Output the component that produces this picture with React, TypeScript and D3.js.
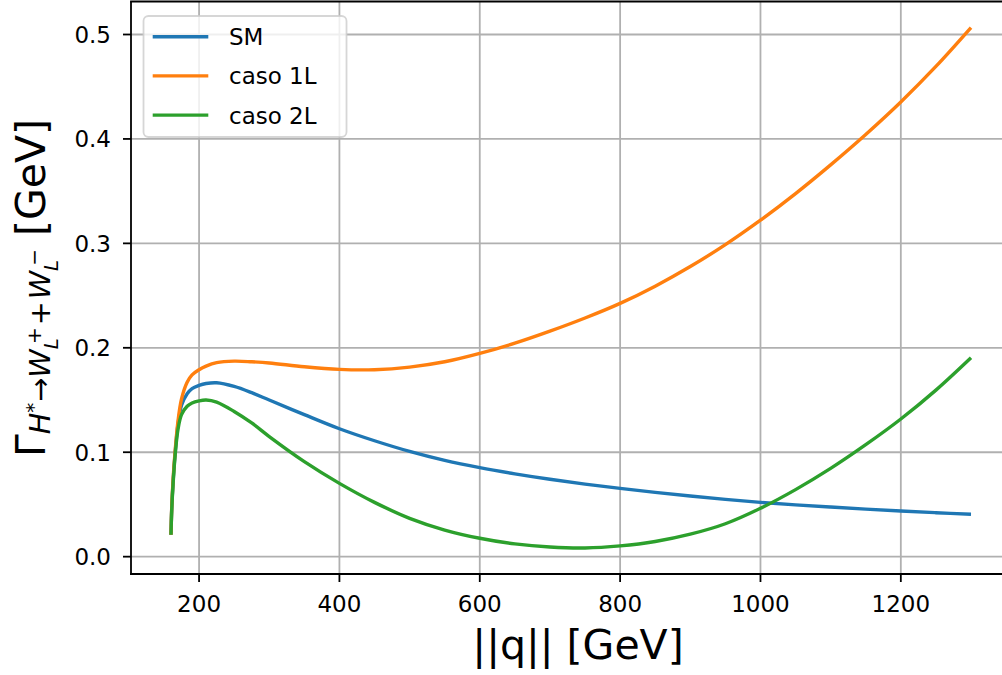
import React from 'react';
import * as d3 from 'd3';

// ||q|| in GeV
const qValues = [160, 161, 163, 166, 170, 175, 183, 190, 200, 210, 225, 250, 275, 300, 350, 400, 450, 500, 550, 600, 650, 700, 750, 800, 850, 900, 950, 1000, 1050, 1100, 1150, 1200, 1250, 1300];
const smValues = [0.021, 0.045, 0.072, 0.100, 0.127, 0.145, 0.156, 0.161, 0.164, 0.1658, 0.1665, 0.163, 0.157, 0.150, 0.136, 0.1225, 0.111, 0.1008, 0.0922, 0.0852, 0.0793, 0.0741, 0.0695, 0.0654, 0.0616, 0.0581, 0.0549, 0.052, 0.0496, 0.0475, 0.0455, 0.0437, 0.0421, 0.0406];
const caso1Values = [0.021, 0.046, 0.074, 0.102, 0.130, 0.151, 0.167, 0.174, 0.179, 0.1825, 0.1858, 0.1872, 0.1866, 0.1855, 0.1818, 0.1793, 0.179, 0.1815, 0.1866, 0.1946, 0.2044, 0.2159, 0.2285, 0.2425, 0.259, 0.2778, 0.2988, 0.3222, 0.3477, 0.3752, 0.4043, 0.4354, 0.4694, 0.5066];
const caso2Values = [0.021, 0.044, 0.070, 0.098, 0.122, 0.136, 0.144, 0.1472, 0.1492, 0.150, 0.148, 0.139, 0.128, 0.115, 0.091, 0.0702, 0.052, 0.0367, 0.0255, 0.0176, 0.0122, 0.0092, 0.0083, 0.0103, 0.0145, 0.0215, 0.0315, 0.0463, 0.0642, 0.0845, 0.1072, 0.1318, 0.1595, 0.1905];

const seriesNames = ['SM', 'caso 1L', 'caso 2L'];
const seriesColors = ['#1f77b4', '#ff7f0e', '#2ca02c'];
const xTicks = [200, 400, 600, 800, 1000, 1200];
const yTicks = [0.0, 0.1, 0.2, 0.3, 0.4, 0.5];

const W = 1002;
const H = 675;
const left = 131;
const right = 1011;
const top = 1.5;
const bottom = 574;
const font = 'DejaVu Sans';

export default function App() {
  const x = d3.scaleLinear().domain([103, 1357]).range([left, right]);
  const y = d3.scaleLinear().domain([-0.0166, 0.5316]).range([bottom, top]);

  const allSeries = [smValues, caso1Values, caso2Values];
  const line = d3
    .line<number>()
    .x((_, i) => x(qValues[i]))
    .y((d) => y(d))
    .curve(d3.curveCatmullRom.alpha(0.5));

  const sub = 28.7;
  const sub2 = 20;

  return (
    <svg
      width={W}
      height={H}
      style={{ position: 'absolute', left: 0, top: 0, background: '#fff' }}
      fontFamily={font}
    >
      <defs>
        <clipPath id="plot">
          <rect x={left} y={top} width={right - left} height={bottom - top} />
        </clipPath>
      </defs>

      {/* grid */}
      <g stroke="#b0b0b0" strokeWidth={1.8}>
        {xTicks.map((t) => (
          <line key={'gx' + t} x1={x(t)} x2={x(t)} y1={top} y2={bottom} />
        ))}
        {yTicks.map((t) => (
          <line key={'gy' + t} x1={left} x2={right} y1={y(t)} y2={y(t)} />
        ))}
      </g>

      {/* curves */}
      <g clipPath="url(#plot)" fill="none" strokeWidth={3.4} strokeLinecap="butt" strokeLinejoin="round">
        {allSeries.map((s, i) => (
          <path key={seriesNames[i]} d={line(s) || ''} stroke={seriesColors[i]} />
        ))}
      </g>

      {/* spines */}
      <g stroke="#000" strokeWidth={1.8} fill="none">
        <line x1={left} x2={left} y1={top} y2={bottom + 0.9} />
        <line x1={left - 0.9} x2={right} y1={bottom} y2={bottom} />
        <line x1={left - 0.9} x2={right} y1={top} y2={top} />
      </g>

      {/* x ticks */}
      <g>
        {xTicks.map((t) => (
          <g key={'xt' + t}>
            <line x1={x(t)} x2={x(t)} y1={bottom} y2={bottom + 8} stroke="#000" strokeWidth={1.8} />
            <text x={x(t)} y={612} textAnchor="middle" fontSize={23}>
              {t}
            </text>
          </g>
        ))}
      </g>

      {/* y ticks */}
      <g>
        {yTicks.map((t) => (
          <g key={'yt' + t}>
            <line x1={left - 8} x2={left} y1={y(t)} y2={y(t)} stroke="#000" strokeWidth={1.8} />
            <text x={111} y={y(t) + 8.4} textAnchor="end" fontSize={23}>
              {t.toFixed(1)}
            </text>
          </g>
        ))}
      </g>

      {/* legend */}
      <g>
        <rect
          x={143.5}
          y={16}
          width={203}
          height={121}
          rx={5}
          fill="#fff"
          fillOpacity={0.8}
          stroke="#cccccc"
          strokeOpacity={0.8}
          strokeWidth={1.8}
        />
        {seriesNames.map((n, i) => {
          const ly = 36.7 + i * 39.2;
          return (
            <g key={'lg' + n}>
              <line x1={152.7} x2={208.3} y1={ly} y2={ly} stroke={seriesColors[i]} strokeWidth={3.4} />
              <text x={229} y={ly + 8.5} fontSize={23}>
                {n}
              </text>
            </g>
          );
        })}
      </g>

      {/* axis labels */}
      <text x={(left + 1025) / 2} y={659} textAnchor="middle" fontSize={41}>
        ||q|| [GeV]
      </text>

      <text transform="translate(45,288) rotate(-90)" textAnchor="middle" fontSize={41}>
        <tspan>Γ</tspan>
        <tspan fontSize={sub} fontStyle="italic" dy={5}>H</tspan>
        <tspan fontSize={sub2} dy={-10}>*</tspan>
        <tspan fontSize={sub} dy={10} dx={1}>→</tspan>
        <tspan fontSize={sub} fontStyle="italic">W</tspan>
        <tspan fontSize={sub2} fontStyle="italic" dy={8}>L</tspan>
        <tspan fontSize={sub2} dy={-17} dx={-6}>+</tspan>
        <tspan fontSize={sub} dy={9} dx={2}>+</tspan>
        <tspan fontSize={sub} fontStyle="italic" dx={2}>W</tspan>
        <tspan fontSize={sub2} fontStyle="italic" dy={8}>L</tspan>
        <tspan fontSize={sub2} dy={-17} dx={-6}>−</tspan>
        <tspan dy={4}>{'\u00a0[GeV]'}</tspan>
      </text>
    </svg>
  );
}
